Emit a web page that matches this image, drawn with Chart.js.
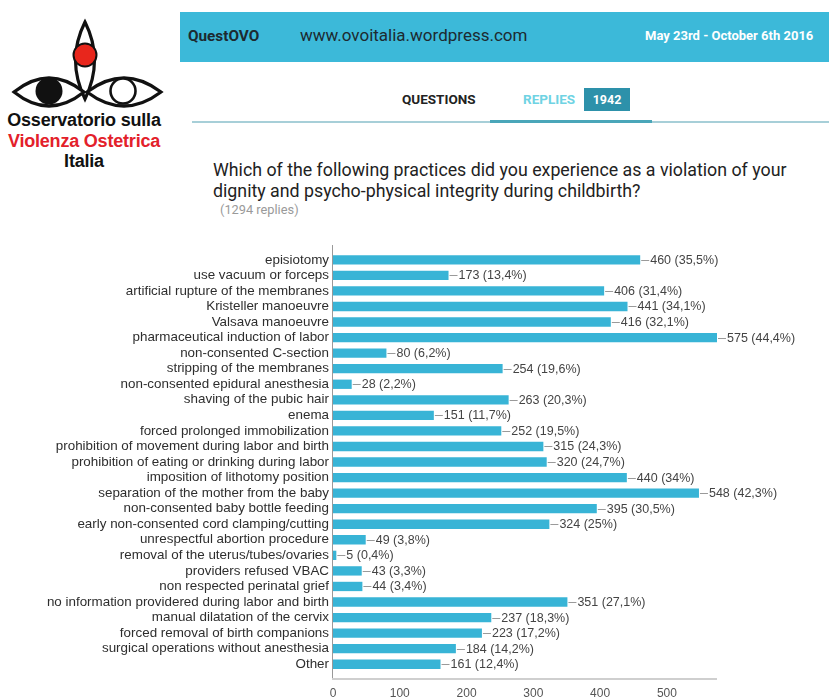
<!DOCTYPE html>
<html>
<head>
<meta charset="utf-8">
<script src="https://cdn.jsdelivr.net/npm/chart.js@4/dist/chart.umd.min.js"></script>
<style>
  html, body { margin: 0; padding: 0; background: #fff; }
  body { width: 829px; height: 700px; position: relative; overflow: hidden; font-family: "Liberation Sans", Arial, sans-serif; }
  .abs { position: absolute; white-space: nowrap; }
  #band { left: 180px; top: 12px; width: 649px; height: 50px; background: #3cb9d9; }
  #brand { left: 188px; top: 27px; font: bold 15.3px Roboto, sans-serif; color: #1d2a30; }
  #site { left: 300px; top: 25px; font: 17px Roboto, sans-serif; color: #1d2a30; }
  #dates { left: 645px; top: 28px; font: bold 13px Roboto, sans-serif; color: #fff; }
  #questions { left: 402px; top: 91px; font: bold 13.5px Roboto, sans-serif; color: #222; }
  #replies { left: 523px; top: 91px; font: bold 13.5px Roboto, sans-serif; color: #6fd3e3; }
  #count { left: 584px; top: 88px; width: 46px; height: 23px; background: #2d91aa; color: #fff; font: bold 12.5px Roboto, sans-serif; text-align: center; line-height: 23px; }
  #rule { left: 192px; top: 121px; width: 637px; height: 2px; background: #a7cfd8; }
  #ruleActive { left: 490px; top: 120px; width: 162px; height: 3px; background: #4aa6b9; }
  #title { left: 213px; top: 159px; font: 17.8px Roboto, sans-serif; color: #222; line-height: 21px; }
  #sub { left: 220px; top: 202px; font: 12.8px Roboto, sans-serif; color: #9a9a9a; }
  .logo { font: bold 18px "Liberation Sans", Arial, sans-serif; text-align: center; width: 168px; left: 0; letter-spacing: -0.2px; }
  #chartWrap { position: absolute; left: 0; top: 240px; width: 829px; height: 460px; }
</style>
</head>
<body>
<svg class="abs" style="left:0;top:0" width="180" height="110" viewBox="0 0 180 110">
  <path d="M85 22 Q104 60 85 99 Q66 60 85 22 Z" fill="#fff" stroke="#111" stroke-width="3.2"/>
  <circle cx="85" cy="55" r="11.5" fill="#e8261c" stroke="#111" stroke-width="2"/>
  <path d="M14 92 Q49 64 84 92 Q49 120 14 92 Z" fill="#fff" stroke="#111" stroke-width="3.2"/>
  <circle cx="49" cy="91" r="13.5" fill="#111"/>
  <path d="M87 92 Q124 64 161 92 Q124 120 87 92 Z" fill="#fff" stroke="#111" stroke-width="3.2"/>
  <circle cx="123" cy="91" r="12.5" fill="#fff" stroke="#111" stroke-width="2.6"/>
</svg>
<div class="abs logo" style="top:110px;color:#111">Osservatorio sulla</div>
<div class="abs logo" style="top:131px;color:#e3202a">Violenza Ostetrica</div>
<div class="abs logo" style="top:151px;color:#111">Italia</div>

<div class="abs" id="band"></div>
<div class="abs" id="brand">QuestOVO</div>
<div class="abs" id="site">www.ovoitalia.wordpress.com</div>
<div class="abs" id="dates">May 23rd - October 6th 2016</div>
<div class="abs" id="questions">QUESTIONS</div>
<div class="abs" id="replies">REPLIES</div>
<div class="abs" id="count">1942</div>
<div class="abs" id="rule"></div>
<div class="abs" id="ruleActive"></div>
<div class="abs" id="title">Which of the following practices did you experience as a violation of your<br>dignity and psycho-physical integrity during childbirth?</div>
<div class="abs" id="sub">(1294 replies)</div>

<div id="chartWrap"><canvas id="c" width="829" height="460"></canvas></div>

<script>
const categories = [
  "episiotomy",
  "use vacuum or forceps",
  "artificial rupture of the membranes",
  "Kristeller manoeuvre",
  "Valsava manoeuvre",
  "pharmaceutical induction of labor",
  "non-consented C-section",
  "stripping of the membranes",
  "non-consented epidural anesthesia",
  "shaving of the pubic hair",
  "enema",
  "forced prolonged immobilization",
  "prohibition of movement during labor and birth",
  "prohibition of eating or drinking during labor",
  "imposition of lithotomy position",
  "separation of the mother from the baby",
  "non-consented baby bottle feeding",
  "early non-consented cord clamping/cutting",
  "unrespectful abortion procedure",
  "removal of the uterus/tubes/ovaries",
  "providers refused VBAC",
  "non respected perinatal grief",
  "no information providered during labor and birth",
  "manual dilatation of the cervix",
  "forced removal of birth companions",
  "surgical operations without anesthesia",
  "Other"
];
const replies = [460, 173, 406, 441, 416, 575, 80, 254, 28, 263, 151, 252, 315, 320, 440, 548, 395, 324, 49, 5, 43, 44, 351, 237, 223, 184, 161];
const percents = ["35,5%", "13,4%", "31,4%", "34,1%", "32,1%", "44,4%", "6,2%", "19,6%", "2,2%", "20,3%", "11,7%", "19,5%", "24,3%", "24,7%", "34%", "42,3%", "30,5%", "25%", "3,8%", "0,4%", "3,3%", "3,4%", "27,1%", "18,3%", "17,2%", "14,2%", "12,4%"];
const xTicks = [0, 100, 200, 300, 400, 500];
const xMax = 575;

const labelFont = "12.5px 'Liberation Sans', Arial, sans-serif";

const overlay = {
  id: 'overlay',
  afterDatasetsDraw(chart) {
    const ctx = chart.ctx;
    const a = chart.chartArea;
    const xs = chart.scales.x;
    ctx.save();
    ctx.strokeStyle = '#999';
    ctx.lineWidth = 1;
    ctx.beginPath();
    ctx.moveTo(Math.round(a.left) - 0.5, a.top - 7);
    ctx.lineTo(Math.round(a.left) - 0.5, a.bottom + 7);
    ctx.stroke();
    ctx.strokeStyle = '#cfcfcf';
    ctx.lineWidth = 2;
    ctx.beginPath();
    ctx.moveTo(a.left - 1, a.bottom + 7);
    ctx.lineTo(xs.getPixelForValue(xMax), a.bottom + 7);
    ctx.stroke();
    const meta = chart.getDatasetMeta(0);
    ctx.font = labelFont;
    ctx.textBaseline = 'middle';
    ctx.textAlign = 'left';
    meta.data.forEach((bar, i) => {
      const x = bar.x, y = bar.y;
      ctx.strokeStyle = '#9a9a9a';
      ctx.lineWidth = 1;
      ctx.beginPath();
      ctx.moveTo(x + 1, Math.round(y) + 0.5);
      ctx.lineTo(x + 9, Math.round(y) + 0.5);
      ctx.stroke();
      ctx.fillStyle = '#444';
      ctx.fillText(replies[i] + ' (' + percents[i] + ')', x + 10, y + 0.5);
    });
    ctx.restore();
  }
};

new Chart(document.getElementById('c'), {
  type: 'bar',
  data: {
    labels: categories,
    datasets: [{
      data: replies,
      backgroundColor: '#38b4d6',
      borderWidth: 0,
      categoryPercentage: 1,
      barPercentage: 0.6
    }]
  },
  options: {
    indexAxis: 'y',
    responsive: false,
    animation: false,
    events: [],
    layout: { padding: { top: 12, right: 112, left: 0, bottom: 0 } },
    plugins: { legend: { display: false }, tooltip: { enabled: false } },
    scales: {
      y: {
        grid: { display: false, drawTicks: false },
        border: { display: false },
        afterFit(s) { s.width = 333; },
        ticks: {
          padding: 4,
          autoSkip: false,
          color: '#2e2e2e',
          font: { family: "'Liberation Sans', Arial, sans-serif", size: 13.4 }
        }
      },
      x: {
        min: 0,
        max: xMax,
        grid: { display: false, drawTicks: false },
        border: { display: false },
        afterBuildTicks(s) { s.ticks = xTicks.map(v => ({ value: v })); },
        afterFit(s) { s.height = 28; },
        ticks: {
          padding: 14,
          color: '#555',
          font: { family: "'Liberation Sans', Arial, sans-serif", size: 12 }
        }
      }
    }
  },
  plugins: [overlay]
});
</script>
</body>
</html>
